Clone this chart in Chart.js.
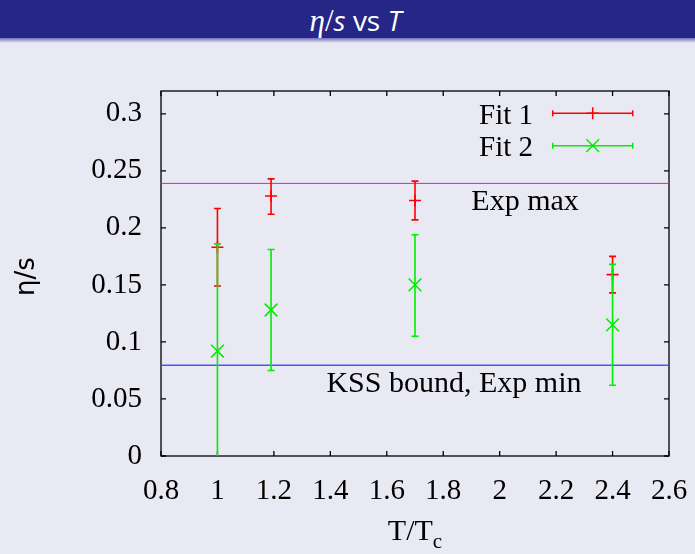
<!DOCTYPE html>
<html>
<head>
<meta charset="utf-8">
<script src="https://cdn.jsdelivr.net/npm/chart.js@4.4.0/dist/chart.umd.min.js"></script>
<style>
  html, body { margin: 0; padding: 0; }
  body { width: 695px; height: 554px; background: #e9e9f3; position: relative; overflow: hidden; }
  #head { position: absolute; left: 0; top: 0; width: 695px; height: 38px; background: #262686; color: #fff;
          font: 28px "Open Sans", sans-serif; line-height: 40px; text-align: center; z-index: 2;
          box-sizing: border-box; padding-left: 16px; }
  #shade { position: absolute; left: 0; top: 38px; width: 695px; height: 5px; z-index: 2;
           background: linear-gradient(#7070b8, #e9e9f3); }
  .mi { font-family: "Liberation Serif", serif; font-style: italic; font-size: 31px; }
  .mr { font-family: "Liberation Serif", serif; font-size: 31px; }
  #c { position: absolute; left: 0; top: 0; }
</style>
</head>
<body>
<div id="head"><span class="mi">η</span><span class="mr">/</span><i>s</i> vs <i>T</i></div>
<div id="shade"></div>
<canvas id="c" width="695" height="554"></canvas>
<script>
// data
const temps = [1.0, 1.19, 1.7, 2.4];
const fit1 = [0.183, 0.228, 0.224, 0.159];
const fit1Lo = [0.149, 0.212, 0.207, 0.143];
const fit1Hi = [0.217, 0.243, 0.241, 0.175];
const fit2 = [0.092, 0.128, 0.150, 0.115];
const fit2Lo = [-0.005, 0.075, 0.105, 0.062];
const fit2Hi = [0.186, 0.181, 0.194, 0.168];
const expMax = 0.239;
const kssBound = 0.0796;
const xTicks = [0.8, 1, 1.2, 1.4, 1.6, 1.8, 2, 2.2, 2.4, 2.6];
const yTicks = [0, 0.05, 0.1, 0.15, 0.2, 0.25, 0.3];

const serif = "'Liberation Serif', serif";

// vertical error bars, drawn just before each dataset's points
const errorBars = {
  id: 'errorBars',
  beforeDatasetDraw(chart, args) {
    const ds = chart.data.datasets[args.index];
    if (!ds.errLo) return;
    const {ctx, chartArea, scales: {x, y}} = chart;
    ctx.save();
    ctx.beginPath();
    ctx.rect(chartArea.left, chartArea.top, chartArea.width, chartArea.height);
    ctx.clip();
    ctx.strokeStyle = ds.borderColor;
    ctx.lineWidth = 1.6;
    ds.data.forEach((p, i) => {
      const px = x.getPixelForValue(p.x);
      const lo = y.getPixelForValue(ds.errLo[i]);
      const hi = y.getPixelForValue(ds.errHi[i]);
      ctx.beginPath();
      ctx.moveTo(px, lo); ctx.lineTo(px, hi);
      ctx.moveTo(px - 3.5, lo); ctx.lineTo(px + 3.5, lo);
      ctx.moveTo(px - 3.5, hi); ctx.lineTo(px + 3.5, hi);
      ctx.stroke();
    });
    ctx.restore();
  }
};

// gnuplot style border with inward ticks on all four sides, plus axis titles
const frame = {
  id: 'frame',
  beforeDatasetsDraw(chart) {
    const {ctx, chartArea: a, scales: {x, y}} = chart;
    ctx.save();
    ctx.strokeStyle = '#000';
    ctx.lineWidth = 1.3;
    ctx.strokeRect(a.left, a.top, a.width, a.height);
    ctx.beginPath();
    xTicks.forEach(v => {
      const px = x.getPixelForValue(v);
      ctx.moveTo(px, a.bottom); ctx.lineTo(px, a.bottom - 5);
      ctx.moveTo(px, a.top); ctx.lineTo(px, a.top + 5);
    });
    yTicks.forEach(v => {
      const py = y.getPixelForValue(v);
      ctx.moveTo(a.left, py); ctx.lineTo(a.left + 5, py);
      ctx.moveTo(a.right, py); ctx.lineTo(a.right - 5, py);
    });
    ctx.stroke();

    ctx.fillStyle = '#000';
    // y title
    ctx.save();
    ctx.translate(27, (a.top + a.bottom) / 2 + 3);
    ctx.rotate(-Math.PI / 2);
    ctx.font = "26px 'DejaVu Sans', sans-serif";
    ctx.textAlign = 'center';
    ctx.textBaseline = 'middle';
    ctx.fillText('η/s', 0, 0);
    ctx.restore();
    // x title with subscript
    ctx.font = '30px ' + serif;
    const w1 = ctx.measureText('T/T').width;
    ctx.font = '21px ' + serif;
    const w2 = ctx.measureText('c').width;
    const sx = (a.left + a.right) / 2 - (w1 + w2) / 2;
    ctx.textBaseline = 'alphabetic';
    ctx.textAlign = 'left';
    ctx.font = '30px ' + serif;
    ctx.fillText('T/T', sx, 540);
    ctx.font = '21px ' + serif;
    ctx.fillText('c', sx + w1, 548);
    ctx.restore();
  }
};

// key in the top right and the two line labels
const key = {
  id: 'key',
  afterDatasetsDraw(chart) {
    const {ctx, chartArea: a, scales: {x, y}} = chart;
    ctx.save();
    ctx.fillStyle = '#000';
    ctx.font = '30px ' + serif;
    ctx.textBaseline = 'alphabetic';
    ctx.textAlign = 'center';
    ctx.fillText('Exp max', x.getPixelForValue(2.09), y.getPixelForValue(0.2157));
    ctx.fillText('KSS bound, Exp min', x.getPixelForValue(1.838), y.getPixelForValue(0.0564));

    ctx.font = '29px ' + serif;
    const fits = chart.data.datasets.filter(d => d.errLo);
    fits.forEach((ds, i) => {
      const yy = a.top + 22.3 + i * 32.4;
      ctx.fillStyle = '#000';
      ctx.textAlign = 'right';
      ctx.fillText(ds.label, a.right - 136, yy + 10.7);
      const x0 = a.right - 116.3, x1 = a.right - 36.3;
      ctx.strokeStyle = ds.borderColor;
      ctx.lineWidth = 1.5;
      ctx.beginPath();
      ctx.moveTo(x0, yy); ctx.lineTo(x1, yy);
      ctx.moveTo(x0, yy - 3); ctx.lineTo(x0, yy + 3);
      ctx.moveTo(x1, yy - 3); ctx.lineTo(x1, yy + 3);
      ctx.stroke();
      Chart.helpers.drawPoint(ctx, {
        pointStyle: ds.pointStyle, radius: ds.pointRadius, rotation: 0, borderWidth: ds.borderWidth
      }, (x0 + x1) / 2, yy);
    });
    ctx.restore();
  }
};

new Chart(document.getElementById('c'), {
  type: 'scatter',
  data: {
    datasets: [
      {
        label: 'Fit 1',
        data: temps.map((t, i) => ({x: t, y: fit1[i]})),
        errLo: fit1Lo, errHi: fit1Hi,
        borderColor: '#ff0000', backgroundColor: '#ff0000',
        pointStyle: 'cross', pointRadius: 6, borderWidth: 1.6,
        order: 2
      },
      {
        label: 'Fit 2',
        data: temps.map((t, i) => ({x: t, y: fit2[i]})),
        errLo: fit2Lo, errHi: fit2Hi,
        borderColor: '#00ee00', backgroundColor: '#00ee00',
        pointStyle: 'crossRot', pointRadius: 9, borderWidth: 1.6,
        order: 1
      },
      {
        label: 'Exp max',
        data: [{x: xTicks[0], y: expMax}, {x: xTicks[xTicks.length - 1], y: expMax}],
        showLine: true, pointRadius: 0, borderColor: '#ff00ff', borderWidth: 1,
        order: 3
      },
      {
        label: 'KSS bound, Exp min',
        data: [{x: xTicks[0], y: kssBound}, {x: xTicks[xTicks.length - 1], y: kssBound}],
        showLine: true, pointRadius: 0, borderColor: '#5050ff', borderWidth: 1.5,
        order: 3
      }
    ]
  },
  options: {
    responsive: false,
    animation: false,
    devicePixelRatio: 1,
    events: [],
    layout: {padding: {top: 91, right: 26, left: 0, bottom: 0}},
    plugins: {legend: {display: false}, tooltip: {enabled: false}},
    scales: {
      x: {
        type: 'linear', min: 0.8, max: 2.6,
        grid: {display: false, drawTicks: false},
        border: {display: false},
        afterFit: s => { s.height = 98; s.paddingLeft = 0; s.paddingRight = 0; },
        afterBuildTicks: s => { s.ticks = xTicks.map(v => ({value: v})); },
        ticks: {
          autoSkip: false, maxRotation: 0, padding: 18, color: '#000',
          font: {family: serif, size: 29},
          callback: v => String(+v.toFixed(1))
        }
      },
      y: {
        type: 'linear', min: 0, max: 0.32,
        grid: {display: false, drawTicks: false},
        border: {display: false},
        afterFit: s => { s.width = 161; s.paddingTop = 0; s.paddingBottom = 0; },
        afterBuildTicks: s => { s.ticks = yTicks.map(v => ({value: v})); },
        ticks: {
          padding: 19, color: '#000',
          font: {family: serif, size: 29},
          callback: v => String(+v.toFixed(2))
        }
      }
    }
  },
  plugins: [errorBars, frame, key]
});
</script>
</body>
</html>
